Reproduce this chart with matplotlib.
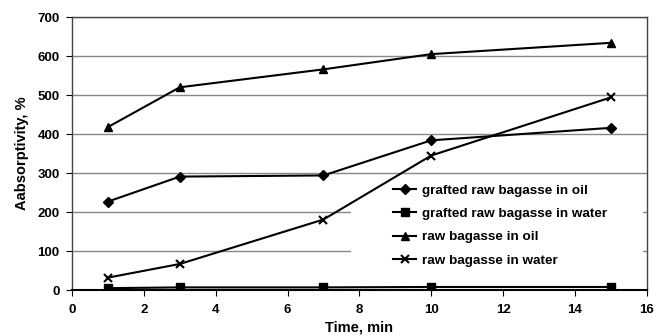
import matplotlib
matplotlib.use("Agg")
import matplotlib.pyplot as plt
from matplotlib.patches import Rectangle

time = [1, 3, 7, 10, 15]
grafted_oil = [227, 291, 294, 384, 416]
grafted_water = [5, 7, 7, 8, 8]
raw_oil = [418, 520, 566, 605, 634]
raw_water = [32, 67, 181, 345, 494]
labels = ["grafted raw bagasse in oil", "grafted raw bagasse in water",
          "raw bagasse in oil", "raw bagasse in water"]

plt.rcParams['font.family'] = ['Liberation Sans', 'DejaVu Sans']
plt.rcParams['font.weight'] = 'bold'

fig = plt.figure(figsize=(6.56, 3.35), dpi=100)
ax = fig.add_axes([0.1098, 0.134, 0.876, 0.815])

ax.plot(time, grafted_oil, color='black', lw=1.5, marker='D', ms=5, label=labels[0], zorder=3)
ax.plot(time, grafted_water, color='black', lw=1.5, marker='s', ms=6, label=labels[1], zorder=3)
ax.plot(time, raw_oil, color='black', lw=1.5, marker='^', ms=6, label=labels[2], zorder=3)
ax.plot(time, raw_water, color='black', lw=1.5, marker='x', ms=6, mew=1.5, label=labels[3], zorder=3)

# white legend box area that hides the gridlines
ax.add_patch(Rectangle((0.485, 0.022), 0.508, 0.392, transform=ax.transAxes,
                       facecolor='white', edgecolor='none', zorder=1.5))

ax.set_xlim(0, 16)
ax.set_ylim(0, 700)
ax.set_xticks(range(0, 17, 2))
ax.set_yticks(range(0, 701, 100))
ax.yaxis.grid(True, color='#888888', lw=1, zorder=1)
ax.set_axisbelow(True)
ax.tick_params(direction='out', length=4, labelsize=9.5, colors='black')
ax.tick_params(axis='x', pad=6)
ax.tick_params(axis='y', pad=5)
for s in ax.spines.values():
    s.set_color('#444444')
    s.set_linewidth(1)
    s.set_zorder(4)
ax.spines['bottom'].set_color('black')
ax.spines['bottom'].set_linewidth(1.5)

ax.set_xlabel("Time, min", fontsize=10.5, fontweight='bold', labelpad=3)
ax.set_ylabel("Aabsorptivity, %", fontsize=10.5, fontweight='bold', labelpad=6)

leg = ax.legend(loc='upper left', bbox_to_anchor=(0.550, 0.408), frameon=False,
                fontsize=9.7, handlelength=1.7, handletextpad=0.4,
                labelspacing=0.82, borderpad=0.4, borderaxespad=0)

fig.savefig("out.png", dpi=100)
